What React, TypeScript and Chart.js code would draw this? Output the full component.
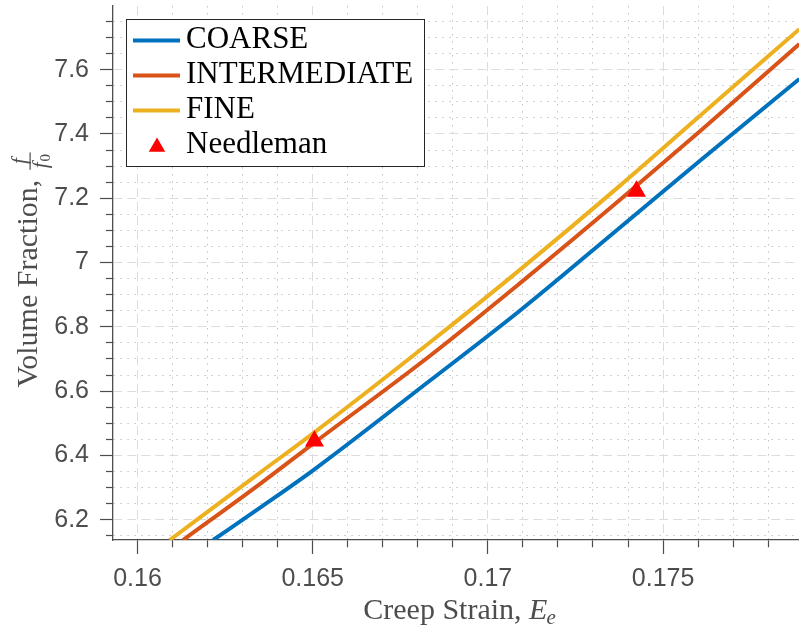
import React, { useEffect, useRef } from 'react';
import { Chart, registerables } from 'chart.js';

Chart.register(...registerables);

// ---- data ----
const coarseX = [0.16216, 0.16349, 0.16505, 0.16835, 0.17092, 0.17378, 0.17607, 0.17889];
const coarseY = [6.137, 6.237, 6.357, 6.633, 6.851, 7.11, 7.318, 7.571];
const intermediateX = [0.1613, 0.16349, 0.16505, 0.16835, 0.17092, 0.17378, 0.17607, 0.17889];
const intermediateY = [6.137, 6.311, 6.44, 6.71, 6.936, 7.196, 7.41, 7.68];
const fineX = [0.16092, 0.16349, 0.16505, 0.16835, 0.17092, 0.17378, 0.17607, 0.17889];
const fineY = [6.137, 6.346, 6.472, 6.752, 6.978, 7.24, 7.458, 7.726];
const needlemanX = [0.16505, 0.17424];
const needlemanY = [6.4446, 7.222];

const seriesLabels = ['COARSE', 'INTERMEDIATE', 'FINE', 'Needleman'];
const seriesColors = ['#0072BD', '#D95319', '#EDB120', '#FF0000'];

const xMajorTicks = [0.16, 0.165, 0.17, 0.175];
const xTickLabels = ['0.16', '0.165', '0.17', '0.175'];
const xMinorTicks = [0.16, 0.161, 0.162, 0.163, 0.164, 0.165, 0.166, 0.167, 0.168, 0.169, 0.17,
  0.171, 0.172, 0.173, 0.174, 0.175, 0.176, 0.177, 0.178];
const yMajorTicks = [6.2, 6.4, 6.6, 6.8, 7, 7.2, 7.4, 7.6];
const yTickLabels = ['6.2', '6.4', '6.6', '6.8', '7', '7.2', '7.4', '7.6'];
const yMinorTicks = Array.from({ length: 33 }, (_, i) => Math.round((6.15 + 0.05 * i) * 100) / 100);

const X_MIN = 0.1593;
const X_MAX = 0.17888;
const Y_MIN = 6.137;
const Y_MAX = 7.798;

const AXIS_COLOR = '#4d4d4d';
const MAJOR_GRID = '#dcdcdc';
const MINOR_GRID = '#c2c2c2';

const findIdx = (arr: number[], v: number) => arr.findIndex((m) => Math.abs(m - v) < 1e-9);
const isMajorX = (v: number) => findIdx(xMajorTicks, v) >= 0;
const isMajorY = (v: number) => findIdx(yMajorTicks, v) >= 0;

const toPts = (xs: number[], ys: number[]) => xs.map((x, i) => ({ x, y: ys[i] }));

const titlesPlugin = {
  id: 'matlabTitles',
  afterDraw(chart: any) {
    const ctx: CanvasRenderingContext2D = chart.ctx;
    ctx.save();
    ctx.fillStyle = AXIS_COLOR;
    ctx.textBaseline = 'alphabetic';
    ctx.textAlign = 'left';
    const serif = '"Liberation Serif", "Times New Roman", serif';
    // X title: "Creep Strain, E_e"
    ctx.font = `30px ${serif}`;
    const main = 'Creep Strain, ';
    const w1 = ctx.measureText(main).width;
    ctx.font = `italic 30px ${serif}`;
    const wE = ctx.measureText('E').width;
    ctx.font = `italic 21px ${serif}`;
    const we = ctx.measureText('e').width;
    const total = w1 + wE + we;
    const xStart = 460 - total / 2;
    const baseY = 619;
    ctx.font = `30px ${serif}`;
    ctx.fillText(main, xStart, baseY);
    ctx.font = `italic 30px ${serif}`;
    ctx.fillText('E', xStart + w1, baseY);
    ctx.font = `italic 21px ${serif}`;
    ctx.fillText('e', xStart + w1 + wE - 1, baseY + 5);

    // Y title: "Volume Fraction, f/f0" rotated
    ctx.font = `30px ${serif}`;
    const ymain = 'Volume Fraction,';
    const W = ctx.measureText(ymain).width;
    ctx.font = `italic 21px ${serif}`;
    const wf = ctx.measureText('f').width;
    ctx.font = `15px ${serif}`;
    const w0 = ctx.measureText('0').width;
    const denW = wf + w0 + 1;
    const barLen = denW + 3;
    const gap = 10;
    const ytotal = W + gap + barLen;
    const centerY = 270;
    ctx.translate(37.3, centerY + ytotal / 2);
    ctx.rotate(-Math.PI / 2);
    ctx.font = `30px ${serif}`;
    ctx.fillText(ymain, 0, 0);
    const fx = W + gap;
    const barV = -7.2;
    ctx.fillRect(fx, barV - 0.6, barLen, 1.2);
    const fc = fx + barLen / 2;
    ctx.font = `italic 21px ${serif}`;
    ctx.fillText('f', fc - wf / 2, barV - 4.5);
    const dStart = fc - denW / 2;
    ctx.fillText('f', dStart, 10);
    ctx.font = `15px ${serif}`;
    ctx.fillText('0', dStart + wf + 1, 13);
    ctx.restore();
  },
};

const legendPlugin = {
  id: 'matlabLegend',
  afterDraw(chart: any) {
    const ctx: CanvasRenderingContext2D = chart.ctx;
    const datasets = chart.data.datasets;
    ctx.save();
    const bx = 126.5, by = 19.5, bw = 298, bh = 147;
    ctx.fillStyle = '#ffffff';
    ctx.fillRect(bx, by, bw, bh);
    ctx.strokeStyle = '#262626';
    ctx.lineWidth = 1;
    ctx.strokeRect(bx, by, bw, bh);
    const rowH = 35;
    ctx.font = '31px "Liberation Serif", "Times New Roman", serif';
    ctx.textBaseline = 'alphabetic';
    ctx.textAlign = 'left';
    datasets.forEach((ds: any, i: number) => {
      const cy = 40.5 + i * rowH;
      if (ds.showLine) {
        ctx.strokeStyle = ds.borderColor;
        ctx.lineWidth = 4;
        ctx.beginPath();
        ctx.moveTo(133, cy);
        ctx.lineTo(180, cy);
        ctx.stroke();
      } else {
        const r = 9.5;
        const cx = 157;
        const ty = cy + 1.5;
        ctx.fillStyle = ds.pointBackgroundColor;
        ctx.beginPath();
        for (let k = 0; k < 3; k++) {
          const a = (k * 2 * Math.PI) / 3;
          const px = cx + Math.sin(a) * r;
          const py = ty - Math.cos(a) * r;
          if (k === 0) ctx.moveTo(px, py);
          else ctx.lineTo(px, py);
        }
        ctx.closePath();
        ctx.fill();
      }
      ctx.fillStyle = '#000000';
      ctx.fillText(ds.label, 186, cy + 7.5);
    });
    ctx.restore();
  },
};

export default function App() {
  const ref = useRef<HTMLCanvasElement>(null);
  useEffect(() => {
    const canvas = ref.current as HTMLCanvasElement;
    const lineDs = (i: number, xs: number[], ys: number[], order: number) => ({
      label: seriesLabels[i],
      data: toPts(xs, ys),
      showLine: true,
      borderColor: seriesColors[i],
      backgroundColor: seriesColors[i],
      borderWidth: 4,
      pointRadius: 0,
      pointHoverRadius: 0,
      cubicInterpolationMode: 'monotone',
      clip: 0,
      order,
    });
    const chart = new Chart(canvas, {
      type: 'scatter',
      data: {
        datasets: [
          lineDs(0, coarseX, coarseY, 3) as any,
          lineDs(1, intermediateX, intermediateY, 2) as any,
          lineDs(2, fineX, fineY, 1) as any,
          {
            label: seriesLabels[3],
            data: toPts(needlemanX, needlemanY),
            showLine: false,
            pointStyle: 'triangle',
            pointRadius: 9.5,
            pointHoverRadius: 9.5,
            pointBackgroundColor: seriesColors[3],
            pointBorderColor: seriesColors[3],
            pointBorderWidth: 1.5,
            clip: false,
            order: 0,
          } as any,
        ],
      },
      options: {
        animation: false,
        responsive: false,
        devicePixelRatio: 1,
        layout: { autoPadding: false, padding: { top: 6, left: 0, right: 0, bottom: 0 } },
        plugins: {
          legend: { display: false },
          tooltip: { enabled: false },
          title: { display: false },
        },
        scales: {
          x: {
            type: 'linear',
            position: 'bottom',
            min: X_MIN,
            max: X_MAX,
            afterBuildTicks: (s: any) => {
              s.ticks = xMinorTicks.map((v) => ({ value: v }));
            },
            afterFit: (s: any) => {
              s.height = 88;
              s.paddingLeft = 0;
              s.paddingRight = 0;
              s.paddingTop = 0;
              s.paddingBottom = 0;
            },
            ticks: {
              autoSkip: false,
              maxRotation: 0,
              minRotation: 0,
              padding: 10,
              color: AXIS_COLOR,
              font: { family: '"Liberation Sans", Arial, sans-serif', size: 25 },
              callback: (v: any) => {
                const idx = findIdx(xMajorTicks, Number(v));
                return idx >= 0 ? xTickLabels[idx] : '';
              },
            },
            grid: {
              drawOnChartArea: true,
              drawTicks: true,
              tickLength: 14,
              tickWidth: 1.2,
              tickColor: AXIS_COLOR,
              lineWidth: 1,
              color: (c: any) => (c.tick && isMajorX(c.tick.value) ? MAJOR_GRID : MINOR_GRID),
              tickBorderDash: (c: any) => (c.tick && !isMajorX(c.tick.value) ? [7, 100] : []),
            },
            border: {
              display: true,
              color: AXIS_COLOR,
              width: 1.3,
              dash: (c: any) => (c.tick ? (isMajorX(c.tick.value) ? [9, 5] : [1.5, 5.5]) : []),
            },
          } as any,
          y: {
            type: 'linear',
            position: 'left',
            min: Y_MIN,
            max: Y_MAX,
            afterBuildTicks: (s: any) => {
              s.ticks = yMinorTicks.map((v) => ({ value: v }));
            },
            afterFit: (s: any) => {
              s.width = 113;
              s.paddingLeft = 0;
              s.paddingRight = 0;
              s.paddingTop = 0;
              s.paddingBottom = 0;
            },
            ticks: {
              autoSkip: false,
              padding: 11,
              color: AXIS_COLOR,
              font: { family: '"Liberation Sans", Arial, sans-serif', size: 25 },
              callback: (v: any) => {
                const idx = findIdx(yMajorTicks, Number(v));
                return idx >= 0 ? yTickLabels[idx] : '';
              },
            },
            grid: {
              drawOnChartArea: true,
              drawTicks: true,
              tickLength: 13,
              tickWidth: 1.2,
              tickColor: AXIS_COLOR,
              lineWidth: 1,
              color: (c: any) => (c.tick && isMajorY(c.tick.value) ? MAJOR_GRID : MINOR_GRID),
              tickBorderDash: (c: any) => (c.tick && !isMajorY(c.tick.value) ? [7, 6] : []),
              tickBorderDashOffset: (c: any) => (c.tick && !isMajorY(c.tick.value) ? 7 : 0),
            },
            border: {
              display: true,
              color: AXIS_COLOR,
              width: 1.3,
              dash: (c: any) => (c.tick ? (isMajorY(c.tick.value) ? [9, 5] : [1.5, 5.5]) : []),
            },
          } as any,
        },
      },
      plugins: [titlesPlugin, legendPlugin],
    });
    return () => chart.destroy();
  }, []);
  return (
    <div style={{ position: 'absolute', left: 0, top: 0, width: 799, height: 628, background: '#ffffff' }}>
      <canvas ref={ref} width={799} height={628} style={{ display: 'block' }} />
    </div>
  );
}
